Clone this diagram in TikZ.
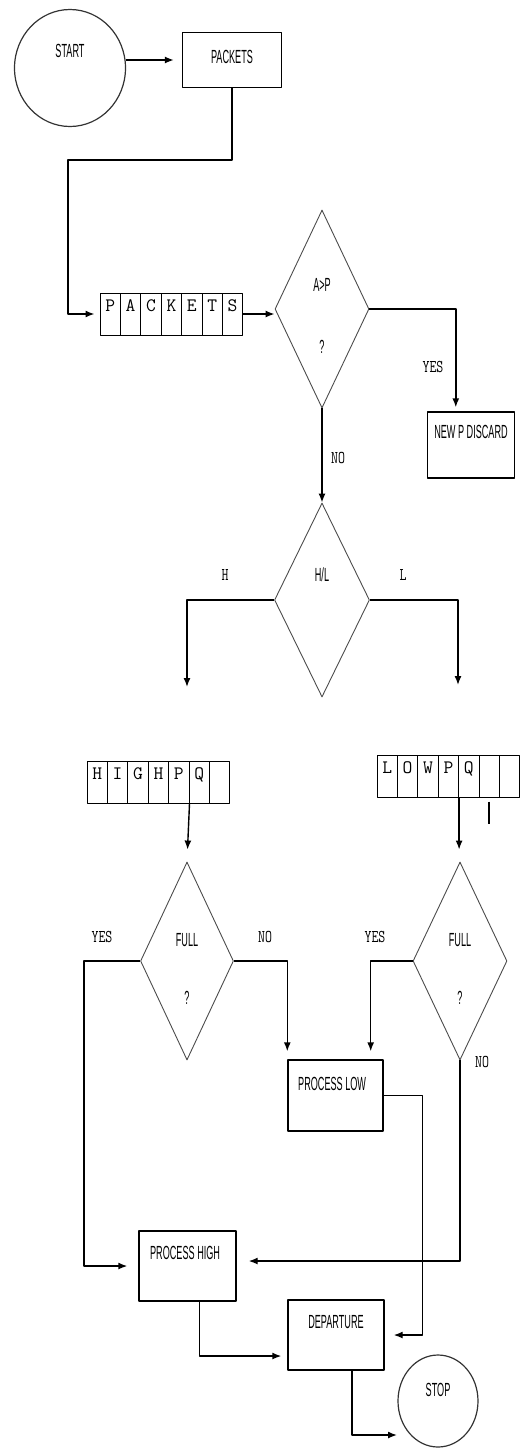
\documentclass[tikz,border=0pt]{standalone}
\usepackage{fontspec}
\setmainfont{Liberation Sans}
\usetikzlibrary{shapes.geometric,arrows.meta}

\tikzset{
  box/.style={draw,line width=1.4pt,inner sep=0pt},
  term/.style={ellipse,draw=black!80,line width=1.2pt,inner sep=0pt},
  decision/.style={diamond,draw=black!70,line width=.9pt,inner sep=0pt},
  cell/.style={draw,line width=1pt,minimum width=20.4pt,minimum height=42pt,inner sep=0pt,
    text height=12pt,text depth=17pt,font=\ttfamily\fontsize{19}{19}\selectfont},
  txt/.style={font=\fontsize{19}{19}\selectfont,xscale=.48},
  tag/.style={font=\ttfamily\fontsize{18}{18}\selectfont,xscale=.75},
  arr/.style={->,line width=1.4pt},
}

\begin{document}
\begin{tikzpicture}[x=1pt,y=-1pt,>={Latex[length=9pt,width=7pt]},line join=round]
\useasboundingbox (0,0) rectangle (526,1449);
% start
\node[term,minimum width=111pt,minimum height=117pt,label={[txt,yshift=17]center:START}] (start) at (70,68) {};
\node[box,minimum width=99pt,minimum height=55pt,label={[txt,yshift=3]center:PACKETS}] (packets) at (232,60) {};
\draw[arr,shorten >=8pt] (start.east |- packets.west) -- (packets.west);
% incoming queue
\foreach \l [count=\i] in {P,A,C,K,E,T,S}
  \node[cell] (p\i) at (89.8+20.4*\i,314) {\l};
\draw[arr,shorten >=5pt] (packets.south) |- (68,160) |- (p1.west);
% A>P ?
\node[decision,minimum width=94pt,minimum height=198pt,
  label={[txt,yshift=24]center:A>P},label={[txt,yshift=-38]center:?}] (ap) at (322,309) {};
\draw[arr] (p7.east) -- (p7.east -| ap.west);
\node[box,minimum width=87pt,minimum height=66pt,label={[txt,yshift=13]center:NEW P DISCARD}] (discard) at (471,445) {};
\draw[arr,shorten >=4pt] (ap.east) -| ([xshift=29]discard.north west);
\node[tag] (yes1) at (433,367) {YES};
% H/L
\node[decision,minimum width=95pt,minimum height=194pt,label={[txt,yshift=25]center:H/L}] (hl) at (322,600) {};
\draw[arr] (ap.south) -- (hl.north);
\node[tag] (no1) at (338,458) {NO};
\coordinate (hout) at (187,687);
\coordinate (lout) at (458,685);
\draw[arr] (hl.west) -| (hout);
\draw[arr] (hl.east) -| (lout);
\node[tag] (hlab) at (225,575) {H};
\node[tag] (llab) at (403,575) {L};
% priority queues
\foreach \l [count=\i] in {H,I,G,H,P,Q,{}}
  \node[cell] (h\i) at (76.8+20.4*\i,782) {\l};
\foreach \l [count=\i] in {L,O,W,P,Q,{},{}}
  \node[cell] (l\i) at (366.8+20.4*\i,776) {\l};
\draw[line width=2pt] ([yshift=-4]l6.south) -- ++(0,22);
% full ?
\node[decision,minimum width=93pt,minimum height=198pt,
  label={[txt,yshift=21]center:FULL},label={[txt,yshift=-37]center:?}] (fl) at (187,961) {};
\node[decision,minimum width=94pt,minimum height=198pt,
  label={[txt,yshift=21]center:FULL},label={[txt,yshift=-37]center:?}] (fr) at (460,961) {};
\draw[arr,shorten >=12pt] (h5.south east) -- (fl.north);
\draw[arr,shorten >=12pt] (l4.south east) -- (l4.south east |- fr.north);
% processing
\node[box,minimum width=95pt,minimum height=71pt,label={[txt,xshift=-7,yshift=12]center:PROCESS LOW}] (pl) at (335.5,1095.5) {};
\node[box,minimum width=97pt,minimum height=70pt,label={[txt,xshift=-5,yshift=13]center:PROCESS HIGH}] (ph) at (187.5,1266) {};
\node[box,minimum width=96pt,minimum height=70pt,label={[txt,yshift=13]center:DEPARTURE}] (dep) at (336,1335) {};
\node[term,minimum width=80pt,minimum height=92pt,label={[txt,yshift=11]center:STOP}] (stop) at (438,1401) {};
\coordinate (stopin) at (397,1435);
\draw[arr,shorten >=11pt] (fl.west) -- ++(-56,0) |- (ph.west);
\draw[arr,shorten >=8pt] (fl.east) -| (pl.north west);
\draw[arr,shorten >=8pt] (fr.west) -| ([xshift=-13]pl.north east);
\draw[arr,shorten >=12pt] (fr.south) |- ([yshift=5]ph.east);
\node[tag] (yes2) at (102,937) {YES};
\node[tag] (no2) at (265,937) {NO};
\node[tag] (yes3) at (375,937) {YES};
\node[tag] (no3) at (482,1062) {NO};
\draw[arr,shorten >=9pt] (pl.east) -- ++(39,0) |- (dep.east);
\draw[arr,shorten >=6pt] ([xshift=12]ph.south) |- ([yshift=-21]dep.west);
\draw[arr] ([xshift=16]dep.south) |- (stopin);
\end{tikzpicture}
\end{document}
